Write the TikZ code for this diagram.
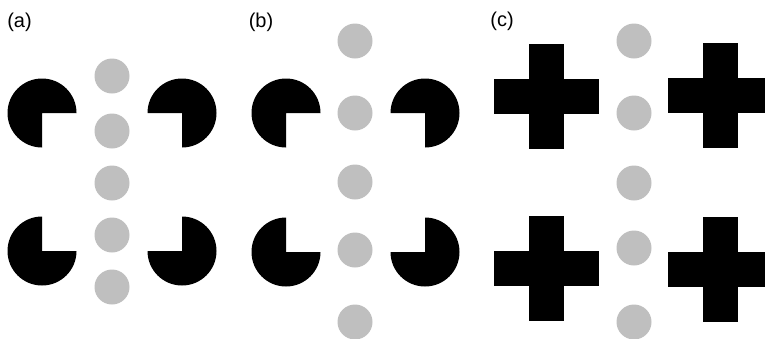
\documentclass[tikz,border=0pt]{standalone}
\usepackage{fontspec}
\setmainfont{Liberation Sans}
\tikzstyle{dot} = [fill=black!25]
\tikzstyle{inducer} = [fill=black]
\tikzstyle{panel} = [font=\fontsize{20}{24}\selectfont, inner sep=0pt]
% #1,#2 centre, #3 angle where the missing quarter starts
\newcommand{\pacman}[3]{\fill[inducer] (#1,#2) -- ++(#3+90:34.5) arc[start angle=#3+90, end angle=#3+360, radius=34.5] -- cycle;}
\newcommand{\blackcross}[2]{\fill[inducer] (#1-52.5,#2-17.5) rectangle (#1+52.5,#2+17.5);
  \fill[inducer] (#1-17.5,#2-52.5) rectangle (#1+17.5,#2+52.5);}

\begin{document}
\begin{tikzpicture}[x=1pt,y=-1pt]
        \useasboundingbox (0,0) rectangle (765,338);
        \clip (0,0) rectangle (765,338);
        \node[panel](la) at (19.5,22){(a)};
        \node[panel](lb) at (261,22){(b)};
        \node[panel](lc) at (502,21){(c)};
        % (a)
        \pacman{42}{113}{0}
        \pacman{182}{113}{90}
        \pacman{42}{251}{270}
        \pacman{182}{251}{180}
        \foreach \y in {76,131,183,235,287}
          \fill[dot] (112,\y) circle[radius=17.5];
        % (b)
        \pacman{286}{113}{0}
        \pacman{425}{113}{90}
        \pacman{286}{252}{270}
        \pacman{425}{252}{180}
        \foreach \y in {41,113,182,250,322}
          \fill[dot] (355,\y) circle[radius=17.5];
        % (c)
        \blackcross{546}{96}
        \blackcross{720.5}{95.5}
        \blackcross{546}{268}
        \blackcross{720.5}{269}
        \foreach \y in {41,113,183,248,322}
          \fill[dot] (634,\y) circle[radius=17.5];
      \end{tikzpicture}
\end{document}
